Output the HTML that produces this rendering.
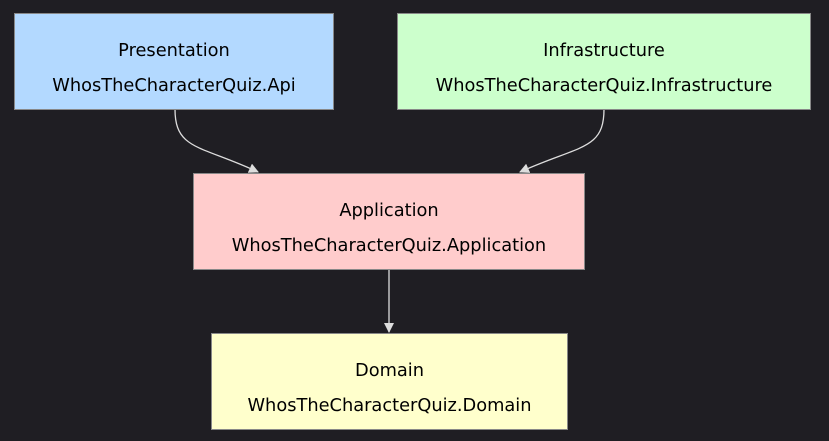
<!DOCTYPE html>
<html><head><style>
html,body{margin:0;padding:0;width:829px;height:441px;background:#1f1e23;overflow:hidden}
.b{position:absolute;box-sizing:border-box;border:1px solid #888;color:#000;font-family:"DejaVu Sans","Liberation Sans",sans-serif;font-size:17.8px;text-align:center}
.t{position:absolute;left:0;right:0;top:26px}
.s{position:absolute;left:0;right:0;top:61px}
</style></head><body>
<svg width="829" height="441" style="position:absolute;left:0;top:0">
<defs><marker id="a" markerWidth="10" markerHeight="10" refX="9" refY="5" orient="auto" markerUnits="userSpaceOnUse"><path d="M0,0 L10,5 L0,10 z" fill="#ddd"/></marker></defs>
<path d="M175,109 C175,150 200,145 258,172" stroke="#ddd" fill="none" stroke-width="1.3" marker-end="url(#a)"/>
<path d="M604,109 C604,150 580,145 520,172" stroke="#ddd" fill="none" stroke-width="1.3" marker-end="url(#a)"/>
<path d="M389,269 L389,332" stroke="#ddd" fill="none" stroke-width="1.3" marker-end="url(#a)"/>
</svg>
<div class="b" style="left:14px;top:13px;width:320px;height:97px;background:#b3d9ff"><div class="t">Presentation</div><div class="s">WhosTheCharacterQuiz.Api</div></div>
<div class="b" style="left:397px;top:13px;width:414px;height:97px;background:#ccffcc"><div class="t">Infrastructure</div><div class="s">WhosTheCharacterQuiz.Infrastructure</div></div>
<div class="b" style="left:193px;top:173px;width:392px;height:97px;background:#ffcccc"><div class="t">Application</div><div class="s">WhosTheCharacterQuiz.Application</div></div>
<div class="b" style="left:211px;top:333px;width:357px;height:97px;background:#ffffcc"><div class="t">Domain</div><div class="s">WhosTheCharacterQuiz.Domain</div></div>
</body></html>
